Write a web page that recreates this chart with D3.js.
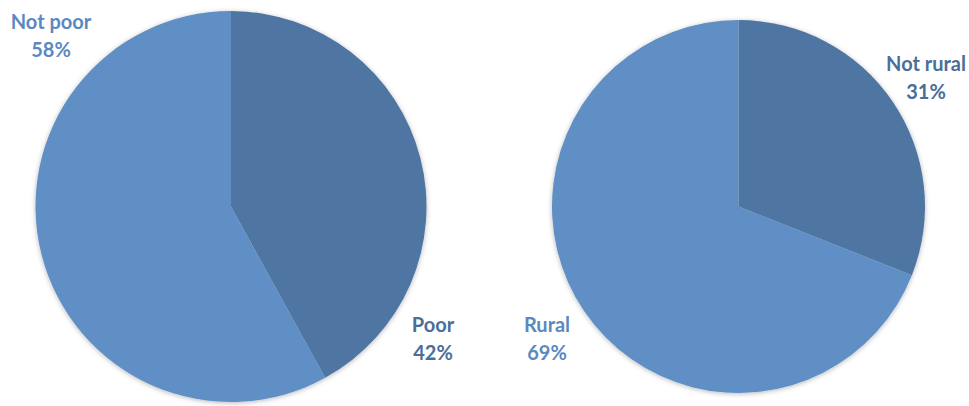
<!DOCTYPE html>
<html><head><meta charset="utf-8">
<script src="https://cdn.jsdelivr.net/npm/d3@7/dist/d3.min.js"></script>
<style>html,body{margin:0;padding:0;background:#fff;}svg{display:block;}</style>
</head><body>
<script>
// Data
const povertyCategories = ["Poor", "Not poor"];
const povertyValues = [42, 58];
const ruralCategories = ["Not rural", "Rural"];
const ruralValues = [31, 69];

const W = 969, H = 406;
const darkBlue = "#4f76a2", lightBlue = "#5f8fc4";
const darkText = "#4a6e99", lightText = "#5b89bf";

const svg = d3.select("body").append("svg").attr("width", W).attr("height", H);
const defs = svg.append("defs");
const f = defs.append("filter").attr("id", "sh").attr("x", "-10%").attr("y", "-10%").attr("width", "120%").attr("height", "120%");
f.append("feDropShadow").attr("dx", 0).attr("dy", 1).attr("stdDeviation", 2.5)
  .attr("flood-color", "#000").attr("flood-opacity", 0.28);

const pieGen = d3.pie().sort(null).value(d => d.v);

function drawPie(cats, vals, cx, cy, r, colors, labels) {
  const data = cats.map((c, i) => ({c, v: vals[i], col: colors[i]}));
  const g = svg.append("g").attr("transform", `translate(${cx},${cy})`);
  const arc = d3.arc().innerRadius(0).outerRadius(r);
  const gs = g.append("g").attr("filter", "url(#sh)");
  gs.selectAll("path").data(pieGen(data)).enter().append("path")
    .attr("d", arc).attr("fill", d => d.data.col);
  labels.forEach((L, i) => {
    const t = svg.append("text").attr("x", L.x).attr("y", L.y)
      .attr("text-anchor", "middle")
      .attr("font-family", "Lato, 'Open Sans', sans-serif")
      .attr("font-weight", "bold").attr("font-size", 20)
      .attr("fill", L.fill);
    t.append("tspan").attr("x", L.x).text(cats[L.idx]);
    t.append("tspan").attr("x", L.x).attr("dy", 28).text(vals[L.idx] + "%");
  });
}

drawPie(povertyCategories, povertyValues, 231, 206.5, 195.5, [darkBlue, lightBlue], [
  {idx: 1, x: 51, y: 29, fill: lightText},
  {idx: 0, x: 433, y: 332, fill: darkText}
]);
drawPie(ruralCategories, ruralValues, 738.5, 206.5, 186.5, [darkBlue, lightBlue], [
  {idx: 0, x: 926, y: 71, fill: darkText},
  {idx: 1, x: 547, y: 332, fill: lightText}
]);
</script>
</body></html>
